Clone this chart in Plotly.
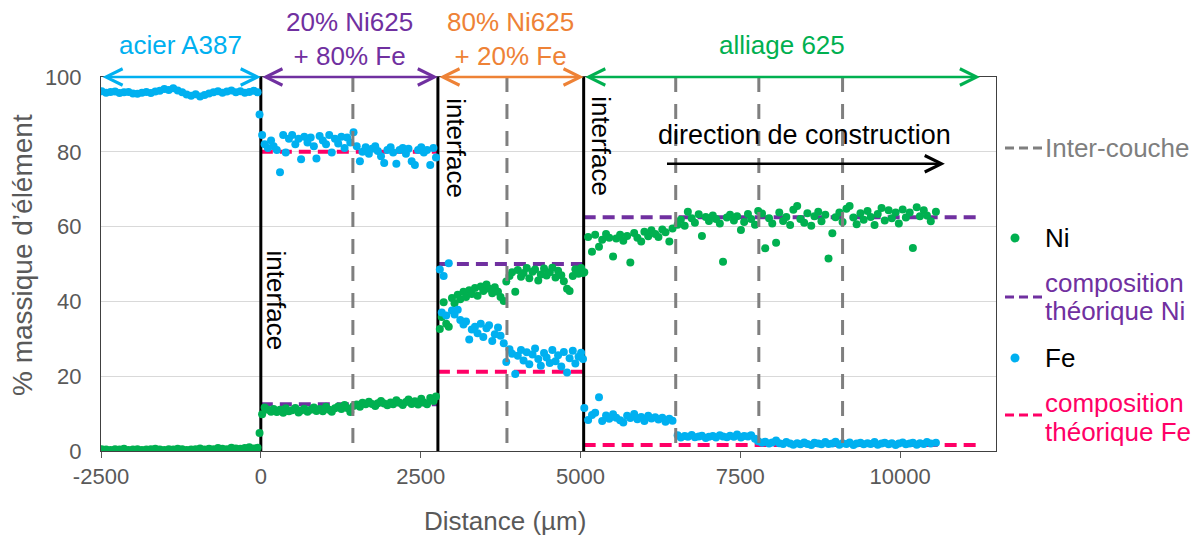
import plotly.graph_objects as go

# ---------------- data ----------------
# zone A : acier A387
xA = [-2490, -2420, -2350, -2280, -2210, -2140, -2070, -2000, -1930, -1860,
      -1790, -1720, -1650, -1580, -1510, -1440, -1370, -1300, -1230, -1160,
      -1090, -1020, -950, -880, -810, -740, -670, -600, -530, -460,
      -390, -320, -250, -180, -110, -50, -20]
feA = [96.2, 95.8, 96.0, 96.1, 95.7, 95.9, 96.0, 95.6, 95.5, 95.8,
       96.0, 95.7, 96.1, 96.3, 96.8, 96.5, 97.0, 96.4, 95.9, 95.3,
       95.0, 95.4, 94.8, 95.2, 95.6, 95.9, 96.2, 95.8, 96.1, 96.4,
       95.9, 96.2, 95.8, 96.0, 96.3, 95.9, 90.0]
niA = [0.5, 0.4, 0.3, 0.5, 0.4, 0.6, 0.3, 0.4, 0.5, 0.3,
       0.4, 0.5, 0.6, 0.4, 0.3, 0.5, 0.4, 0.6, 0.5, 0.3,
       0.4, 0.5, 0.7, 0.4, 0.6, 0.5, 0.8, 0.6, 0.5, 0.9,
       0.7, 0.6, 0.8, 1.0, 0.7, 0.9, 4.8]

# zone B : 20% Ni625 + 80% Fe
xB = [20, 60, 110, 160, 200, 250, 300, 350, 390, 440,
      490, 540, 590, 630, 680, 730, 780, 830, 870, 920,
      970, 1020, 1070, 1110, 1160, 1210, 1260, 1310, 1350, 1400,
      1450, 1500, 1550, 1590, 1640, 1690, 1740, 1790, 1830, 1880,
      1930, 1980, 2030, 2070, 2120, 2170, 2220, 2270, 2310, 2360,
      2410, 2460, 2510, 2550, 2600, 2650, 2700, 2740]
feB = [84.5, 82.0, 81.0, 83.0, 81.5, 80.5, 74.5, 84.5, 79.8, 83.5,
       84.5, 82.0, 83.5, 78.0, 84.0, 82.5, 83.8, 81.5, 78.2, 84.2,
       83.0, 82.0, 84.5, 79.8, 83.5, 82.2, 84.0, 81.0, 83.8, 82.5,
       85.2, 81.5, 77.5, 80.0, 81.2, 79.5, 80.8, 81.5, 80.2, 78.8,
       77.0, 80.5, 81.2, 79.8, 76.8, 80.5, 81.0, 79.5, 80.8, 77.5,
       76.5, 80.5, 81.2, 79.8, 80.5, 76.5, 81.0, 78.5]
niB = [9.8, 11.6, 11.0, 10.5, 11.2, 10.4, 11.0, 10.2, 11.4, 10.6,
       10.9, 11.5, 10.3, 10.8, 11.3, 10.5, 11.0, 11.6, 10.7, 11.2,
       10.6, 11.8, 11.0, 10.5, 11.4, 11.9, 11.2, 12.3, 11.5, 10.4,
       12.0, 12.4, 11.8, 12.9, 12.5, 13.2, 12.6, 12.0, 12.8, 13.4,
       12.7, 12.2, 13.0, 12.5, 13.6, 12.9, 12.3, 13.1, 13.8, 12.6,
       13.3, 12.4, 14.0, 13.0, 12.5, 14.2, 13.4, 14.6]

# zone C : 80% Ni625 + 20% Fe
xC = [2800, 2830, 2860, 2900, 2940, 2990, 3030, 3080, 3120, 3170,
      3210, 3260, 3300, 3350, 3390, 3440, 3480, 3530, 3570, 3620,
      3660, 3710, 3750, 3800, 3840, 3890, 3930, 3980, 4020, 4070,
      4110, 4160, 4200, 4250, 4290, 4340, 4380, 4430, 4470, 4520,
      4560, 4610, 4650, 4700, 4740, 4790, 4830, 4880, 4920, 4970,
      5010, 5040]
feC = [48.5, 37.0, 46.8, 36.2, 50.2, 37.6, 36.5, 37.8, 35.0, 33.8,
       34.6, 29.8, 32.5, 33.2, 31.5, 34.0, 30.5, 32.8, 33.6, 29.4,
       31.2, 33.0, 30.8, 28.8, 23.8, 27.2, 26.0, 20.6, 25.5, 27.0,
       24.2, 26.4, 23.2, 25.8, 27.4, 24.6, 22.8, 26.2, 25.0, 23.5,
       27.0, 24.0, 25.6, 22.6, 26.5, 21.0, 24.8, 26.8, 23.4, 25.2,
       26.3, 24.6]
niC = [32.6, 35.8, 39.8, 34.0, 33.2, 40.9, 39.5, 41.8, 40.6, 42.6,
       41.2, 43.0, 42.0, 43.6, 41.5, 44.0, 42.8, 44.5, 43.4, 42.2,
       43.8, 42.6, 41.2, 40.1, 45.3, 46.8, 47.8, 42.6, 48.4, 46.6,
       47.6, 48.9, 46.2, 47.9, 48.5, 45.6, 47.2, 48.8, 46.9, 47.8,
       49.0, 46.4, 48.2, 47.0, 45.4, 43.4, 42.8, 46.8, 48.6, 47.4,
       48.9, 47.6]

# zone D : alliage 625
xD = [5060, 5120, 5180, 5230, 5290, 5340, 5400, 5450, 5510, 5560,
      5620, 5670, 5730, 5780, 5840, 5890, 5950, 6000, 6060, 6110,
      6170, 6220, 6280, 6330, 6390, 6440, 6520, 6570, 6630, 6680,
      6740, 6790, 6850, 6900, 6960, 7010, 7070, 7120, 7180, 7230,
      7290, 7340, 7400, 7450, 7510, 7560, 7620, 7670, 7730, 7780,
      7840, 7890, 7950, 8000, 8060, 8110, 8170, 8220, 8280, 8330,
      8390, 8440, 8500, 8550, 8610, 8660, 8720, 8770, 8830, 8880,
      8940, 8990, 9050, 9100, 9160, 9210, 9270, 9320, 9380, 9430,
      9490, 9540, 9600, 9650, 9710, 9760, 9820, 9870, 9930, 9980,
      10040, 10090, 10150, 10200, 10260, 10310, 10370, 10420, 10480, 10560]
niD = [47.8, 57.2, 53.3, 57.8, 54.6, 56.5, 58.0, 57.0, 52.0, 56.8,
       57.8, 56.2, 57.5, 50.4, 58.3, 57.0, 56.0, 58.6, 57.4, 59.0,
       58.0, 57.2, 59.2, 58.5, 56.0, 59.5, 60.5, 61.8, 60.2, 64.0,
       62.2, 61.0, 63.3, 57.5, 62.6, 61.5, 63.0, 62.0, 60.8, 50.6,
       62.4, 63.2, 61.6, 62.8, 59.1, 61.2, 63.4, 62.0, 60.5, 64.2,
       63.5, 54.2, 62.2, 60.8, 55.7, 63.8, 61.5, 62.6, 60.4, 64.5,
       65.5, 62.0, 61.0, 63.6, 60.2, 62.8, 64.0, 61.4, 63.2, 51.5,
       58.2, 62.5, 63.8, 61.2, 64.8, 65.5, 62.4, 60.6, 63.6, 61.8,
       64.2, 62.6, 60.4, 63.4, 65.0, 61.6, 64.4, 62.2, 63.8, 60.8,
       64.6, 62.4, 63.8, 54.3, 65.2, 62.8, 64.4, 63.0, 61.4, 64.0]
feD = [11.5, 8.3, 9.6, 10.2, 14.4, 8.0, 9.5, 8.6, 9.8, 8.9,
       8.2, 7.6, 9.4, 8.8, 9.9, 8.5, 9.1, 8.0, 9.4, 8.7,
       9.0, 8.4, 8.9, 7.8, 8.6, 8.1, 4.2, 3.6, 4.0, 3.8,
       4.3, 3.7, 3.9, 4.1, 3.5, 3.8, 4.0, 3.6, 4.2, 3.9,
       3.7, 4.1, 3.8, 4.4, 3.6, 4.0, 3.9, 4.2, 3.3, 2.6,
       2.2, 2.5, 2.0, 2.3, 2.8, 2.1, 1.9, 2.4, 2.0, 1.7,
       2.1, 1.8, 2.3, 1.9, 1.6, 2.2, 2.0, 1.8, 2.4, 1.9,
       2.0, 2.5, 1.7, 2.1, 1.9, 2.3, 1.6, 2.0, 2.2, 1.8,
       2.1, 1.9, 2.4, 1.7, 2.0, 2.2, 1.8, 2.1, 1.6, 2.0,
       2.3, 1.8, 2.0, 2.2, 1.7, 2.1, 1.9, 2.4, 2.0, 2.2]

interfaces = [0, 2770, 5050]
intercouches = [1440, 3850, 6490, 7790, 9100]
theo_x0 = [0, 2770, 5050]
theo_x1 = [2770, 5050, 11200]
theo_ni = [12.5, 50.0, 62.5]
theo_fe = [80.0, 21.2, 1.6]
zone_bounds = [-2500, 0, 2770, 5050, 11250]
zone_labels = ["acier A387", "20% Ni625<br>+ 80% Fe", "80% Ni625<br>+ 20% Fe", "alliage 625"]
direction_span = [6330, 10700]
direction_level = 76.8
x_ticks = [-2500, 0, 2500, 5000, 7500, 10000]
x_tick_labels = ["-2500", "0", "2500", "5000", "7500", "10000"]
y_ticks = [0, 20, 40, 60, 80, 100]

for a, b in [(xA, feA), (xA, niA), (xB, feB), (xB, niB), (xC, feC), (xC, niC), (xD, feD), (xD, niD)]:
    assert len(a) == len(b)

x_all = xA + xB + xC + xD
fe_all = feA + feB + feC + feD
ni_all = niA + niB + niC + niD

# ---------------- style ----------------
FONT = "Liberation Sans, Arial, sans-serif"
C_FE = "#00b0f0"
C_NI = "#00b050"
C_PUR = "#7030a0"
C_PINK = "#ff0066"
C_ORANGE = "#ee8236"
C_GRAY = "#7f7f7f"
C_TXT = "#595959"
zone_colors = [C_FE, C_PUR, C_ORANGE, C_NI]

L, R, T, B = 101, 996, 77, 451
W, H = 1200, 543


def pxx(p):
    return (p - L) / (R - L)


def pyy(q):
    return (B - q) / (B - T)


fig = go.Figure()

# theoretical compositions
for x0, x1, v in zip(theo_x0, theo_x1, theo_ni):
    fig.add_trace(go.Scatter(x=[x0, x1], y=[v, v], mode="lines",
                             line=dict(color=C_PUR, width=4, dash="12px,7px"),
                             hoverinfo="skip", showlegend=False))
for x0, x1, v in zip(theo_x0, theo_x1, theo_fe):
    fig.add_trace(go.Scatter(x=[x0, x1], y=[v, v], mode="lines",
                             line=dict(color=C_PINK, width=4, dash="12px,7px"),
                             hoverinfo="skip", showlegend=False))

# interfaces
for xi in interfaces:
    fig.add_trace(go.Scatter(x=[xi, xi], y=[0, 100], mode="lines",
                             line=dict(color="black", width=3),
                             hoverinfo="skip", showlegend=False))

# measurements
fig.add_trace(go.Scatter(x=x_all, y=ni_all, mode="markers", name="Ni",
                         marker=dict(color=C_NI, size=8), showlegend=False))
fig.add_trace(go.Scatter(x=x_all, y=fe_all, mode="markers", name="Fe",
                         marker=dict(color=C_FE, size=8), showlegend=False))

# inter-couches
for xi in intercouches:
    fig.add_trace(go.Scatter(x=[xi, xi], y=[100, 0], mode="lines",
                             line=dict(color=C_GRAY, width=3, dash="15px,12px"),
                             hoverinfo="skip", showlegend=False))

ann = []
# zone arrows + labels
for i in range(4):
    ann.append(dict(x=zone_bounds[i + 1], y=100, ax=zone_bounds[i], ay=100,
                    xref="x", yref="y", axref="x", ayref="y", text="",
                    showarrow=True, arrowhead=5, startarrowhead=5, arrowside="end+start",
                    arrowsize=1.3, startarrowsize=1.3, arrowwidth=2.5, arrowcolor=zone_colors[i]))
    two = "<br>" in zone_labels[i]
    ann.append(dict(x=(zone_bounds[i] + zone_bounds[i + 1]) / 2, y=100, xref="x", yref="y",
                    text=zone_labels[i], showarrow=False, yanchor="middle", xanchor="center",
                    yshift=38.5 if two else 32,
                    font=dict(family=FONT, size=26, color=zone_colors[i])))

# interface labels
for xi, yv, xs in zip(interfaces, [40.3, 81.0, 81.6], [15, 18, 18]):
    ann.append(dict(x=xi, y=yv, xref="x", yref="y", text="interface", textangle=90,
                    showarrow=False, xshift=xs, xanchor="center", yanchor="middle",
                    font=dict(family=FONT, size=26, color="black")))

# direction de construction
ann.append(dict(x=direction_span[1], y=direction_level, ax=direction_span[0], ay=direction_level,
                xref="x", yref="y", axref="x", ayref="y", text="", showarrow=True,
                arrowhead=5, arrowsize=1.3, arrowwidth=2.5, arrowcolor="black"))
ann.append(dict(x=(direction_span[0] + direction_span[1]) / 2 - 10, y=84.5, xref="x", yref="y",
                text="direction de construction", showarrow=False,
                xanchor="center", yanchor="middle",
                font=dict(family=FONT, size=27, color="black")))

# axis titles
ann.append(dict(x=pxx(505), y=pyy(521), xref="paper", yref="paper", text="Distance (µm)",
                showarrow=False, xanchor="center", yanchor="middle",
                font=dict(family=FONT, size=26, color=C_TXT)))
ann.append(dict(x=pxx(22), y=pyy(255), xref="paper", yref="paper", text="% massique d’élément",
                textangle=-90, showarrow=False, xanchor="center", yanchor="middle",
                font=dict(family=FONT, size=28, color=C_TXT)))

# custom legend
shapes = []
for yy, col in [(148, C_GRAY), (297, C_PUR), (415, C_PINK)]:
    shapes.append(dict(type="line", xref="paper", yref="paper", x0=pxx(1005), x1=pxx(1043),
                       y0=pyy(yy), y1=pyy(yy), line=dict(color=col, width=3, dash="9px,5px")))
for yy, col in [(238, C_NI), (358, C_FE)]:
    shapes.append(dict(type="circle", xref="paper", yref="paper", xsizemode="pixel", ysizemode="pixel",
                       xanchor=pxx(1015), yanchor=pyy(yy), x0=-4.5, x1=4.5, y0=-4.5, y1=4.5,
                       fillcolor=col, line=dict(width=0)))
for txt, yy, col in [("Inter-couche", 148, C_GRAY), ("Ni", 238, "black"),
                     ("composition", 283, C_PUR), ("théorique Ni", 311, C_PUR),
                     ("Fe", 358, "black"),
                     ("composition", 403, C_PINK), ("théorique Fe", 432, C_PINK)]:
    ann.append(dict(x=pxx(1043), y=pyy(yy), xref="paper", yref="paper", text=txt,
                    showarrow=False, xanchor="left", yanchor="middle",
                    font=dict(family=FONT, size=26, color=col)))

fig.update_layout(
    width=W, height=H,
    margin=dict(l=L, r=W - R, t=T, b=H - B),
    plot_bgcolor="white", paper_bgcolor="white",
    showlegend=False,
    annotations=ann, shapes=shapes,
    font=dict(family=FONT, size=22, color=C_TXT),
    xaxis=dict(range=[-2500, 11500], tickvals=x_ticks, ticktext=x_tick_labels,
               ticks="outside", ticklen=6,
               tickcolor="#595959", showgrid=False, zeroline=False, showline=True,
               linecolor="#404040", linewidth=1, mirror=True,
               tickfont=dict(family=FONT, size=22, color=C_TXT)),
    yaxis=dict(range=[0, 100], tickvals=y_ticks, ticks="outside", ticklen=14,
               tickcolor="rgba(0,0,0,0)", showgrid=True, gridcolor="#d9d9d9", gridwidth=1,
               zeroline=False, showline=True, linecolor="#404040", linewidth=1, mirror=True,
               tickfont=dict(family=FONT, size=22, color=C_TXT)),
)

fig.write_html("out.html", config={"displayModeBar": False},
               post_script="document.body.style.margin='0';")
